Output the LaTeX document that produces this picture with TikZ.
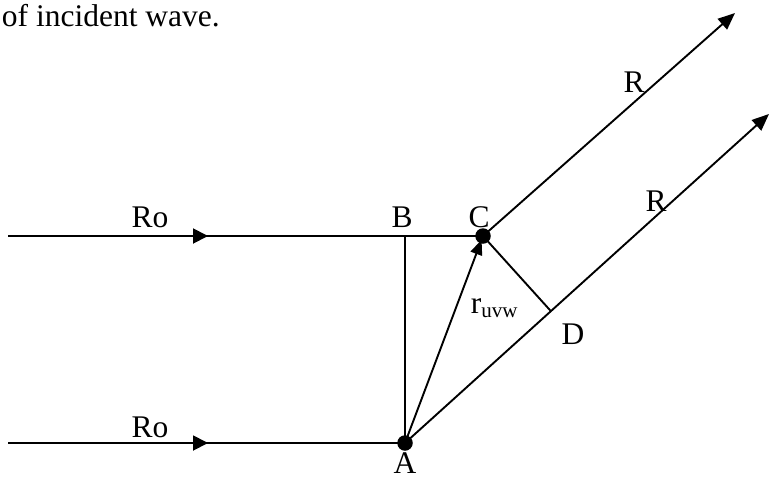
\documentclass[tikz,border=0pt]{standalone}
\usepackage{fontspec}
\setmainfont{Liberation Serif}
\usetikzlibrary{arrows.meta,calc,decorations.markings}
\begin{document}
\begin{tikzpicture}[x=1pt,y=-1pt,
  line width=1.9pt,
  lbl/.style={inner sep=0pt,anchor=base,font=\fontsize{31.5}{36}\selectfont},
  dot/.style={circle,fill=black,inner sep=0pt,minimum size=15.5pt},
  tip/.style={-{Triangle[length=17pt,width=14pt]}},
  midarrow/.style={postaction={decorate},decoration={markings,
     mark=at position 200pt with {\arrow{Triangle[length=15pt,width=15pt]}}}}]
\useasboundingbox (0,0) rectangle (770,479);
% points
\coordinate (S1) at (8,236);
\coordinate (S2) at (8,443);
\coordinate (B) at (405,236);
\coordinate (T1) at (735,13);
\coordinate (T2) at (769,114);
\node[dot] (A) at (405,443) {};
\node[dot] (C) at (483,236) {};
\coordinate (D) at ($(A.center)!(C.center)!(T2)$);
% lines
\draw[midarrow] (S1) -- (C.center);
\draw[midarrow] (S2) -- (A.center);
\draw (B) -- (A.center);
\draw[tip] (C.center) -- (T1);
\draw[tip] (A.center) -- (T2);
\draw (C.center) -- (D);
\draw[-{Triangle[length=15pt,width=12pt]},shorten >=4pt] (A.center) -- (C.center);
% labels
\node[lbl,anchor=base west] (cap) at (1,26) {of incident wave.};
\node[lbl] (ro1) at (150,227) {Ro};
\node[lbl] (ro2) at (150,437) {Ro};
\node[lbl] (lB) at (402,227) {B};
\node[lbl] (lC) at (479,227) {C};
\node[lbl] (lA) at (405,473) {A};
\node[lbl] (lD) at (573,344) {D};
\node[lbl] (lR1) at (634,92) {R};
\node[lbl] (lR2) at (656,211) {R};
\node[lbl,anchor=base west] (lr) at (470,313) {r\raisebox{-4pt}{\fontsize{21}{21}\selectfont uvw}};
\end{tikzpicture}
\end{document}
